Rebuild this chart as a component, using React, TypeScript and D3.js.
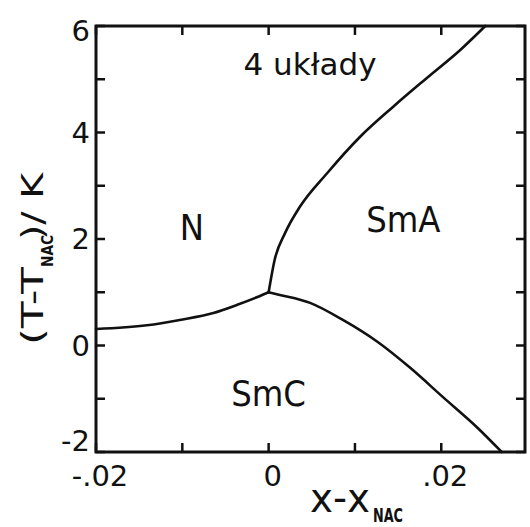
import React from "react";
import * as d3 from "d3";

// Phase boundaries near the N–SmA–SmC point (x - x_NAC vs T - T_NAC)
const nSmCX = [-0.02, -0.0141, -0.0103, -0.0064, -0.0037, -0.0013, 0];
const nSmCY = [0.31, 0.38, 0.48, 0.61, 0.76, 0.91, 1.0];

const nSmAX = [0, 0.0007, 0.0019, 0.0036, 0.0068, 0.0106, 0.0144, 0.0183, 0.0222, 0.0251];
const nSmAY = [1.0, 1.61, 2.11, 2.6, 3.24, 3.92, 4.48, 5.02, 5.55, 6.0];

const smASmCX = [0, 0.0013, 0.0048, 0.0086, 0.0126, 0.0164, 0.0202, 0.0241, 0.027];
const smASmCY = [1.0, 0.95, 0.8, 0.48, 0.07, -0.42, -0.97, -1.53, -2.0];

// Axes
const X_DOMAIN: [number, number] = [-0.02, 0.0297];
const Y_DOMAIN: [number, number] = [-2, 6];
const xTicks = [-0.02, -0.01, 0, 0.01, 0.02];
const xTickLabels = ["-.02", "", "0", "", ".02"];
const yTicks = [-2, -1, 0, 1, 2, 3, 4, 5, 6];
const yLabelTicks = [-2, 0, 2, 4, 6];

// Region names
const regionNames = ["N", "SmA", "SmC"];
const regionX = [-0.0089, 0.0156, 0.0];
const regionY = [1.98, 2.13, -1.14];
const titleText = "4 układy";

const W = 530;
const H = 527;
const FONT = "'DejaVu Sans', sans-serif";
const FONT_C = "'DejaVu Sans Condensed', 'DejaVu Sans', sans-serif";
const INK = "#111";

export default function App() {
  const x = d3.scaleLinear().domain(X_DOMAIN).range([96, 525]);
  const y = d3.scaleLinear().domain(Y_DOMAIN).range([452, 26]);

  const line = d3
    .line<[number, number]>()
    .x((d) => x(d[0]))
    .y((d) => y(d[1]))
    .curve(d3.curveMonotoneX);

  const zip = (xs: number[], ys: number[]) =>
    xs.map((v, i) => [v, ys[i]] as [number, number]);

  const curves = [zip(nSmCX, nSmCY), zip(nSmAX, nSmAY), zip(smASmCX, smASmCY)];

  const [x0, x1] = X_DOMAIN;
  const [y0, y1] = Y_DOMAIN;
  const tick = 9;
  // keep the end labels inside the frame's height
  const yLabelBase = (v: number) => Math.min(451, Math.max(41, y(v) + 10));

  return (
    <svg
      width={W}
      height={H}
      viewBox={`0 0 ${W} ${H}`}
      style={{ position: "absolute", left: 0, top: 0, background: "#fff" }}
    >
      <rect x={0} y={0} width={W} height={H} fill="#fff" />

      {/* frame */}
      <rect
        x={x(x0)}
        y={y(y1)}
        width={x(x1) - x(x0)}
        height={y(y0) - y(y1)}
        fill="none"
        stroke={INK}
        strokeWidth={3}
      />

      {/* ticks, pointing inward on all four sides */}
      {yTicks.map((v) => (
        <g key={`yt${v}`} stroke={INK} strokeWidth={2.5}>
          <line x1={x(x0)} x2={x(x0) + tick} y1={y(v)} y2={y(v)} />
          <line x1={x(x1)} x2={x(x1) - tick} y1={y(v)} y2={y(v)} />
        </g>
      ))}
      {xTicks.map((v) => (
        <g key={`xt${v}`} stroke={INK} strokeWidth={2.5}>
          <line x1={x(v)} x2={x(v)} y1={y(y0)} y2={y(y0) - tick} />
          <line x1={x(v)} x2={x(v)} y1={y(y1)} y2={y(y1) + tick} />
        </g>
      ))}

      {/* tick labels */}
      {yLabelTicks.map((v) => (
        <text
          key={`yl${v}`}
          x={x(x0) - 6}
          y={yLabelBase(v)}
          textAnchor="end"
          fontFamily={FONT}
          fontSize={29}
          fill={INK}
        >
          {v}
        </text>
      ))}
      {xTicks.map((v, i) =>
        xTickLabels[i] ? (
          <text
            key={`xl${v}`}
            x={x(v) + 4}
            y={486}
            textAnchor="middle"
            fontFamily={FONT}
            fontSize={29}
            fill={INK}
          >
            {xTickLabels[i]}
          </text>
        ) : null
      )}

      {/* axis titles */}
      <g fill={INK}>
        <text x={310} y={512} fontFamily={FONT} fontSize={40} textLength={60} lengthAdjust="spacingAndGlyphs">
          x-x
        </text>
        <text x={373} y={522} fontFamily={FONT} fontWeight="bold" fontSize={19} textLength={30} lengthAdjust="spacingAndGlyphs">
          NAC
        </text>
      </g>
      <g fill={INK} transform="translate(43,0) rotate(-90)">
        <text x={-345} y={0} fontFamily={FONT} fontSize={31} textLength={78} lengthAdjust="spacingAndGlyphs">
          (T-T
        </text>
        <text x={-267} y={10} fontFamily={FONT} fontWeight="bold" fontSize={16} textLength={32} lengthAdjust="spacingAndGlyphs">
          NAC
        </text>
        <text x={-240} y={0} fontFamily={FONT} fontSize={31} textLength={67} lengthAdjust="spacingAndGlyphs">
          )/ K
        </text>
      </g>

      {/* phase boundaries */}
      {curves.map((c, i) => (
        <path
          key={`c${i}`}
          d={line(c) ?? ""}
          fill="none"
          stroke={INK}
          strokeWidth={2.6}
          strokeLinejoin="round"
          strokeLinecap="round"
        />
      ))}

      {/* phase names */}
      {regionNames.map((n, i) => (
        <text
          key={n}
          x={x(regionX[i])}
          y={y(regionY[i])}
          textAnchor="middle"
          fontFamily={FONT_C}
          fontStretch="condensed"
          fontSize={36}
          fill={INK}
        >
          {n}
        </text>
      ))}
      <text
        x={x(0.0048)}
        y={y(5.08)}
        textAnchor="middle"
        fontFamily={FONT}
        fontSize={31}
        fill={INK}
      >
        {titleText}
      </text>
    </svg>
  );
}
